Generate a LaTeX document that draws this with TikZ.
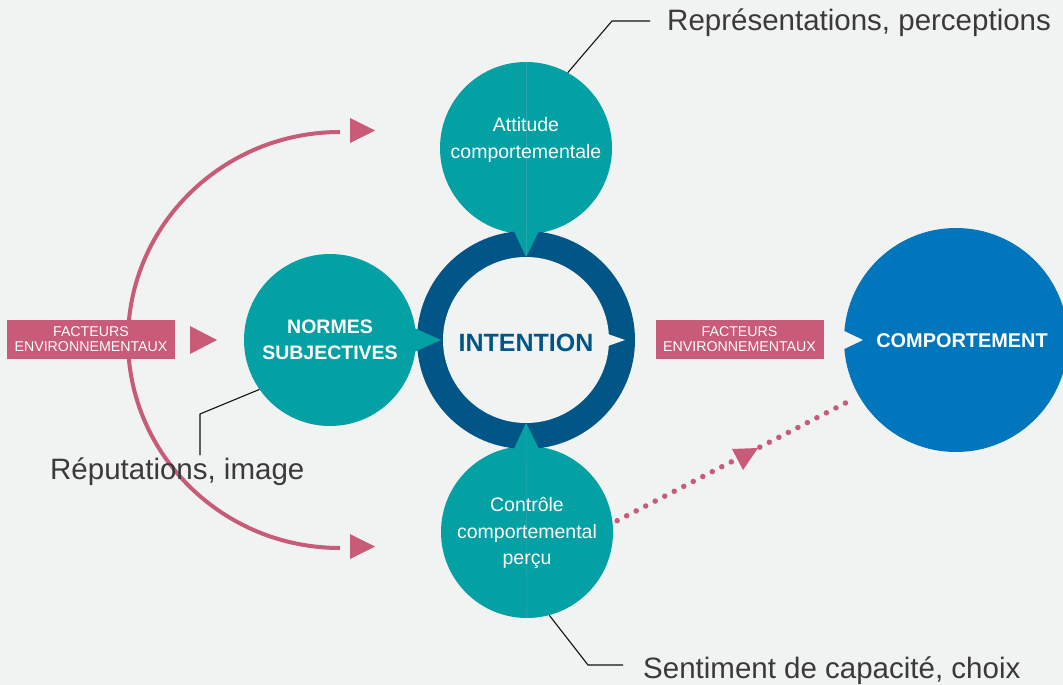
\documentclass[tikz,border=0pt]{standalone}
\usepackage{fontspec}
\setmainfont{Liberation Sans}
\definecolor{bg}{HTML}{F1F2F2}
\definecolor{tealc}{HTML}{03A0A4}
\definecolor{tealline}{HTML}{26A8AC}
\definecolor{ringblue}{HTML}{025687}
\definecolor{compblue}{HTML}{0176BC}
\definecolor{pinkc}{HTML}{C75B78}
\definecolor{lblgray}{HTML}{3A3A3A}
\definecolor{leadc}{HTML}{111111}
\begin{document}
\begin{tikzpicture}[x=1pt,y=1pt,
  tealcirc/.style={circle,fill=tealc,minimum size=172pt,inner sep=0pt},
  circtext/.style={text=white,align=center,inner sep=0pt,font=\fontsize{19.5}{26.5}\selectfont},
  boldtext/.style={text=white,align=center,inner sep=0pt,font=\fontsize{19.5}{26}\selectfont\bfseries},
  fbox/.style={rectangle,fill=pinkc,minimum width=168pt,minimum height=39pt,inner sep=0pt,text=white,align=center,font=\fontsize{14.2}{15}\selectfont},
  pinkline/.style={draw=pinkc,line width=4pt},
  dotline/.style={draw=pinkc,line width=5.5pt,line cap=round,dash pattern=on 0pt off 10.7pt,shorten <=5pt,shorten >=11pt},
  leader/.style={draw=leadc,line width=1.1pt},
  lbl/.style={text=lblgray,inner sep=0pt,font=\fontsize{29.5}{34}\selectfont},
  seam/.style={draw=tealline,line width=0.6pt}]
\fill[bg] (0,0) rectangle (1063,-685);
\useasboundingbox (0,0) rectangle (1063,-685);

% arc with its arrow heads
\draw[pinkline] (340,-132) arc[start angle=90,end angle=270,x radius=212,y radius=208];
\fill[pinkc] (350,-118) -- (375,-130.5) -- (350,-143) -- cycle;
\fill[pinkc] (350,-534) -- (375,-546.5) -- (350,-559) -- cycle;

% environmental factor boxes
\node[fbox] (f1) at (91,-339) {FACTEURS\\ENVIRONNEMENTAUX};
\node[fbox] (f2) at (739.5,-339) {FACTEURS\\ENVIRONNEMENTAUX};
\fill[pinkc] (190,-326) -- (217,-340) -- (190,-354) -- cycle;

% circles
\node[tealcirc] (att) at (526,-148) {};
\node[tealcirc] (nor) at (330,-340) {};
\node[tealcirc] (con) at (527,-532) {};
\node[circle,fill=compblue,minimum size=224pt,inner sep=0pt] (comp) at (956,-340) {};
\fill[bg] (840,-329) -- (863,-340) -- (840,-351) -- cycle;

% ring
\node[circle,fill=ringblue,minimum size=218pt,inner sep=0pt] (ring) at (526,-340) {};
\node[circle,fill=bg,minimum size=166pt,inner sep=0pt] (int) at (526,-340) {};
\fill[bg] (605,-333) -- (625,-340) -- (605,-347) -- cycle;

% pointers of the teal circles
\fill[tealc] (513,-229) -- (526,-257) -- (540,-229) -- cycle;
\fill[tealc] (513,-451) -- (526,-423) -- (540,-451) -- cycle;
\fill[tealc] (412,-327) -- (441,-340) -- (412,-353) -- cycle;
\draw[seam] (att.north) -- (526,-255);
\draw[seam] (526,-425) -- (con.south);

% texts
\node[circtext] (attT) at (526,-140) {Attitude\\comportementale};
\node[boldtext] (norT) at (330,-340) {NORMES\\SUBJECTIVES};
\node[circtext] (conT) at (527,-533) {Contrôle\\comportemental\\perçu};
\node[text=ringblue,inner sep=0pt,font=\fontsize{25}{30}\selectfont\bfseries] (intT) at (526,-343) {INTENTION};
\node[text=white,inner sep=0pt,font=\fontsize{19.9}{24}\selectfont\bfseries] (compT) at (962,-341) {COMPORTEMENT};

% leader lines and labels
\coordinate (repL) at (650,-21);
\draw[leader] (att.61) -- (612,-21) -- (repL);
\node[lbl,anchor=base west] (rep) at (667,-31) {Représentations, perceptions};
\coordinate (senL) at (623,-665);
\draw[leader] (con.-75) -- (588,-665) -- (senL);
\node[lbl,anchor=base west] (sen) at (643,-678) {Sentiment de capacité, choix};
\coordinate (repuL) at (200,-455);
\draw[leader] (nor.215) -- (200,-414) -- (repuL);
\node[lbl,anchor=base west] (repu) at (50,-479) {Réputations, image};

% dotted link
\draw[dotline] (con.6) -- (comp.210);
\fill[pinkc] (732,-449) -- (758,-448) -- (743,-470) -- cycle;
\end{tikzpicture}
\end{document}
